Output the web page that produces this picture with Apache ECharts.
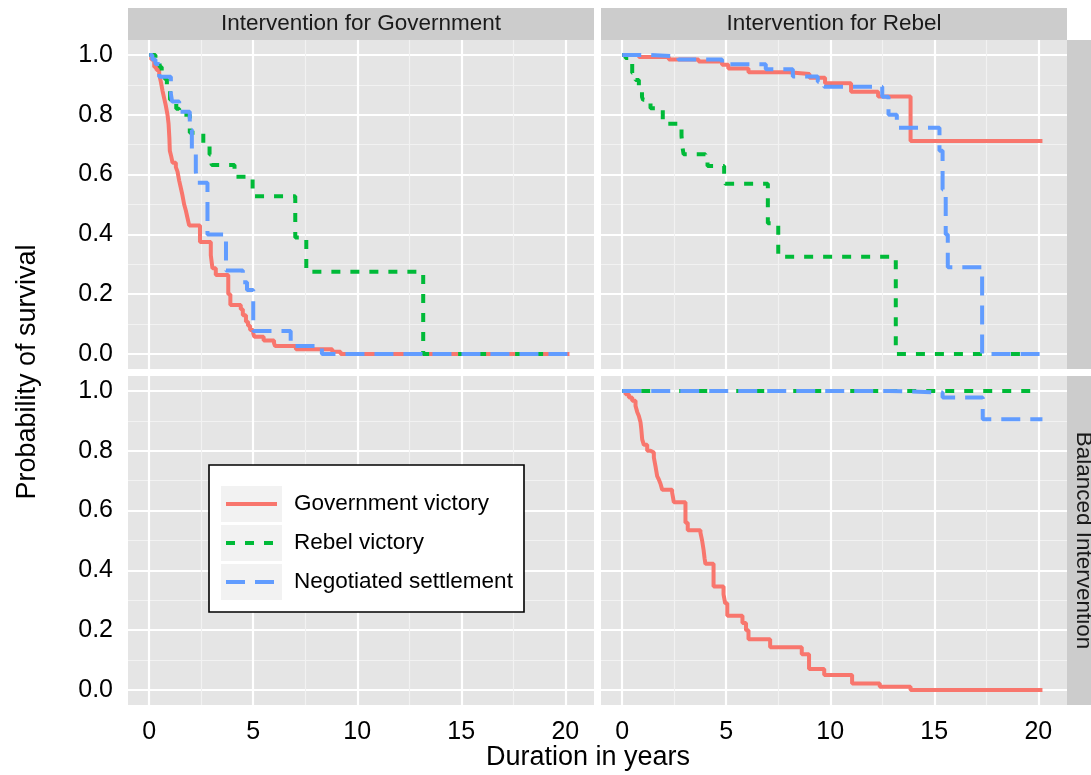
<!DOCTYPE html>
<html><head><meta charset="utf-8">
<script src="https://cdn.jsdelivr.net/npm/echarts@6/dist/echarts.min.js"></script>
<style>html,body{margin:0;padding:0;background:#fff}#c{width:1091px;height:775px}</style>
</head><body><div id="c"></div>
<script>
// ---------- data ----------
const seriesNames = ['Government victory', 'Rebel victory', 'Negotiated settlement'];
const colTitles = ['Intervention for Government', 'Intervention for Rebel'];
const rowTitles = ['', 'Balanced Intervention'];
const xTitle = 'Duration in years';
const yTitle = 'Probability of survival';
const xTicks = [0, 5, 10, 15, 20];
const xMinorTicks = [2.5, 7.5, 12.5, 17.5];
const yTicks = [0, 0.2, 0.4, 0.6, 0.8, 1.0];
const yMinorTicks = [0.1, 0.3, 0.5, 0.7, 0.9];

// Intervention for Government panel
const govGovVictory = [[0,1],[0.1,0.985],[0.24,0.96],[0.35,0.95],[0.48,0.935],[0.56,0.91],[0.64,0.88],[0.72,0.855],[0.8,0.83],[0.88,0.8],[0.93,0.77],[0.97,0.72],[0.99,0.68],[1.06,0.66],[1.12,0.64],[1.28,0.625],[1.36,0.61],[1.44,0.58],[1.52,0.555],[1.6,0.53],[1.68,0.5],[1.76,0.48],[1.84,0.455],[1.92,0.43],[2.44,0.375],[2.96,0.33],[3.04,0.287],[3.2,0.264],[3.8,0.2],[3.9,0.164],[4.4,0.15],[4.5,0.13],[4.65,0.108],[4.75,0.095],[4.85,0.08],[5.0,0.069],[5.05,0.058],[5.5,0.045],[6.0,0.036],[6.05,0.027],[7.05,0.016],[8.8,0.008],[9.2,0],[20.2,0]];
const govRebVictory = [[0,1],[0.3,0.98],[0.5,0.96],[0.6,0.94],[0.75,0.92],[0.85,0.89],[1.0,0.85],[1.3,0.82],[1.44,0.8],[1.95,0.74],[2.6,0.7],[2.9,0.667],[3.0,0.632],[4.1,0.593],[4.97,0.528],[7.02,0.39],[7.55,0.275],[13.17,0],[20.3,0]];
const govNegSettle = [[0,1],[0.15,0.985],[0.3,0.97],[0.48,0.927],[1.04,0.87],[1.1,0.844],[1.44,0.81],[1.95,0.75],[2.05,0.68],[2.24,0.61],[2.3,0.573],[2.8,0.4],[3.69,0.279],[4.5,0.24],[4.7,0.214],[5.0,0.077],[6.8,0.027],[8.3,0],[20.3,0]];

// Intervention for Rebel panel
const rebGovVictory = [[0,1],[0.8,0.993],[2.24,0.985],[3.67,0.978],[4.8,0.967],[5.1,0.955],[6.07,0.942],[8.0,0.936],[9.0,0.924],[9.75,0.905],[11.0,0.877],[12.3,0.861],[13.86,0.712],[20.2,0.712]];
const rebRebVictory = [[0,1],[0.16,0.99],[0.3,0.97],[0.48,0.94],[0.64,0.916],[0.8,0.89],[0.95,0.86],[1.0,0.85],[1.36,0.822],[1.95,0.77],[2.85,0.73],[2.9,0.69],[2.95,0.668],[4.0,0.65],[4.1,0.629],[4.9,0.6],[4.95,0.569],[7.0,0.437],[7.5,0.325],[13.15,0],[20.1,0]];
const rebNegSettle = [[0,1],[1.3,0.995],[2.7,0.985],[4.8,0.969],[6.9,0.952],[8.2,0.928],[9.4,0.91],[9.7,0.894],[12.5,0.86],[12.8,0.8],[13.2,0.757],[15.25,0.68],[15.4,0.55],[15.55,0.4],[15.65,0.29],[17.3,0],[20.2,0]];

// Balanced Intervention panel
const balGovVictory = [[0,1],[0.16,0.989],[0.32,0.978],[0.48,0.967],[0.64,0.95],[0.72,0.93],[0.8,0.916],[0.88,0.895],[0.92,0.87],[0.96,0.838],[1.04,0.82],[1.2,0.8],[1.36,0.794],[1.52,0.778],[1.6,0.748],[1.68,0.715],[1.76,0.704],[1.84,0.69],[1.92,0.67],[2.4,0.66],[2.48,0.628],[3.04,0.559],[3.15,0.534],[3.76,0.526],[3.84,0.5],[3.91,0.469],[3.96,0.44],[4.0,0.422],[4.39,0.346],[4.87,0.32],[4.95,0.29],[5.05,0.248],[5.78,0.224],[5.95,0.2],[6.07,0.17],[7.11,0.143],[8.63,0.12],[8.98,0.07],[9.71,0.05],[11.05,0.022],[12.38,0.011],[13.86,0],[20.2,0]];
const balRebVictory = [[0,1],[20.0,1]];
const balNegSettle = [[0,1],[12.8,0.995],[15.4,0.978],[17.33,0.905],[20.2,0.905]];

// ---------- styling ----------
const FONT = 'Liberation Sans, Arial, Helvetica, sans-serif';
const colors = ['#F8766D', '#00BA38', '#619CFF'];
const dashes = ['solid', [9, 10], [19, 10]];
const LW = 4;
const gridBoxes = [
  {left: 128, top: 40, width: 466, height: 329},
  {left: 601, top: 40, width: 466, height: 329},
  {left: 128, top: 376, width: 466, height: 329},
  {left: 601, top: 376, width: 466, height: 329}
];
const panelData = [
  [govGovVictory, govRebVictory, govNegSettle],
  [rebGovVictory, rebRebVictory, rebNegSettle],
  null,
  [balGovVictory, balRebVictory, balNegSettle]
];

const grid = gridBoxes.map(b => Object.assign({show: true, backgroundColor: '#E5E5E5', borderWidth: 0, containLabel: false}, b));
const xAxis = [], yAxis = [];
gridBoxes.forEach((b, i) => {
  const showX = i >= 2, showY = i % 2 === 0;
  xAxis.push({type: 'value', gridIndex: i, min: -1.02, max: 21.38,
    axisLine: {show: false}, axisTick: {show: false, customValues: xTicks},
    axisLabel: {show: showX, customValues: xTicks, fontSize: 25, color: '#000', fontFamily: FONT, margin: 15},
    splitLine: {show: true, lineStyle: {color: '#FFFFFF', width: 2.2}}});
  xAxis.push({type: 'value', gridIndex: i, min: -1.02, max: 21.38,
    axisLine: {show: false}, axisTick: {show: false, customValues: xMinorTicks},
    axisLabel: {show: false, customValues: xMinorTicks},
    splitLine: {show: true, lineStyle: {color: '#F2F2F2', width: 1.1}}});
  yAxis.push({type: 'value', gridIndex: i, min: -0.05, max: 1.05,
    axisLine: {show: false}, axisTick: {show: false, customValues: yTicks},
    axisLabel: {show: showY, customValues: yTicks, fontSize: 25, color: '#000', fontFamily: FONT, margin: 15,
      formatter: v => v.toFixed(1)},
    splitLine: {show: true, lineStyle: {color: '#FFFFFF', width: 2.2}}});
  yAxis.push({type: 'value', gridIndex: i, min: -0.05, max: 1.05,
    axisLine: {show: false}, axisTick: {show: false, customValues: yMinorTicks},
    axisLabel: {show: false, customValues: yMinorTicks},
    splitLine: {show: true, lineStyle: {color: '#F2F2F2', width: 1.1}}});
});

const series = [];
panelData.forEach((pd, i) => {
  if (!pd) return;
  pd.forEach((d, k) => {
    series.push({type: 'line', name: seriesNames[k], xAxisIndex: 2 * i, yAxisIndex: 2 * i,
      data: d, step: 'end', showSymbol: false, symbol: 'none', silent: true, z: 3 + k,
      lineStyle: {color: colors[k], width: LW, type: dashes[k], cap: 'butt'}});
  });
});

// strips, titles, legend
const graphic = [];
colTitles.forEach((t, c) => {
  const b = gridBoxes[c];
  graphic.push({type: 'rect', shape: {x: b.left, y: 8, width: b.width, height: 32}, style: {fill: '#CCCCCC'}, z: 1});
  graphic.push({type: 'text', x: b.left + b.width / 2, y: 24, z: 2,
    style: {text: t, fill: '#1A1A1A', font: '22.5px ' + FONT, align: 'center', verticalAlign: 'middle'}});
});
rowTitles.forEach((t, r) => {
  const b = gridBoxes[r * 2 + 1];
  graphic.push({type: 'rect', shape: {x: b.left + b.width, y: b.top, width: 32, height: b.height}, style: {fill: '#CCCCCC'}, z: 1});
  if (t) graphic.push({type: 'text', x: b.left + b.width + 16, y: b.top + b.height / 2, rotation: -Math.PI / 2, z: 2,
    style: {text: t, fill: '#1A1A1A', font: '22.5px ' + FONT, align: 'center', verticalAlign: 'middle'}});
});
graphic.push({type: 'text', x: 588, y: 758, z: 2,
  style: {text: xTitle, fill: '#000', font: '27px ' + FONT, align: 'center', verticalAlign: 'middle'}});
graphic.push({type: 'text', x: 28, y: 372, rotation: Math.PI / 2, z: 2,
  style: {text: yTitle, fill: '#000', font: '27px ' + FONT, align: 'center', verticalAlign: 'middle'}});

// legend box
const LG = {x: 209, y: 465, w: 315, h: 147};
graphic.push({type: 'rect', z: 50, shape: {x: LG.x, y: LG.y, width: LG.w, height: LG.h},
  style: {fill: '#FFFFFF', stroke: '#000000', lineWidth: 1.6}});
seriesNames.forEach((n, k) => {
  const cy = 504 + 39 * k;
  graphic.push({type: 'rect', z: 51, shape: {x: 221, y: cy - 18, width: 61, height: 36}, style: {fill: '#F2F2F2'}});
  graphic.push({type: 'line', z: 52, shape: {x1: 226, y1: cy, x2: 277, y2: cy},
    style: {stroke: colors[k], lineWidth: LW, lineDash: dashes[k] === 'solid' ? null : dashes[k]}});
  graphic.push({type: 'text', z: 52, x: 294, y: cy,
    style: {text: n, fill: '#000', font: '22.5px ' + FONT, align: 'left', verticalAlign: 'middle'}});
});

const chart = echarts.init(document.getElementById('c'), null, {renderer: 'canvas'});
chart.setOption({animation: false, backgroundColor: '#FFFFFF', grid, xAxis, yAxis, series, graphic});
</script>
</body></html>
